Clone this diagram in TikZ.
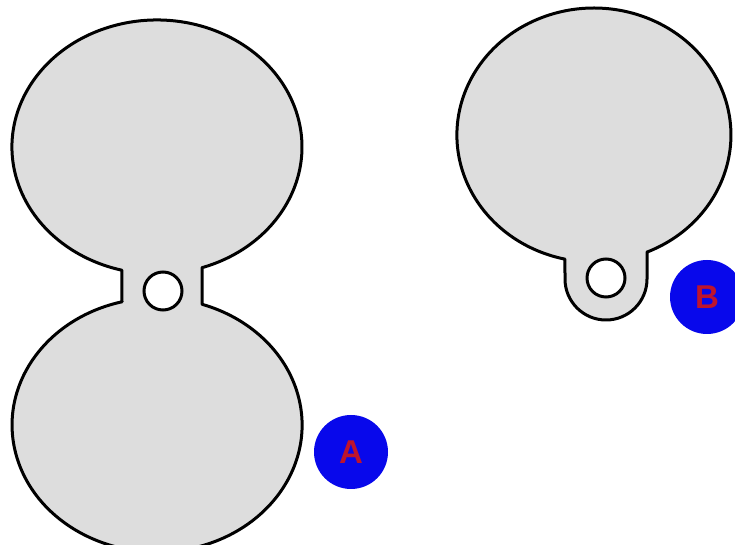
\documentclass[tikz,border=0pt]{standalone}
\usepackage{fontspec}
\setsansfont{Liberation Sans}
\usepackage{xcolor}
\usepackage{tikz}
\usetikzlibrary{positioning}
\definecolor{partgray}{RGB}{221,221,221}
\definecolor{badgeblue}{RGB}{8,8,235}
\definecolor{badgered}{RGB}{190,20,45}

\begin{document}
\begin{tikzpicture}[
  x=1pt, y=1pt,
  part/.style={draw=black, line width=3pt, fill=partgray, line join=round},
  hole/.style={draw=black, line width=3pt, fill=white},
  badge/.style={circle, fill=badgeblue, minimum size=74pt, inner sep=0pt, text=badgered, font=\sffamily\bfseries\fontsize{33}{33}\selectfont}
]
\useasboundingbox (0,0) rectangle (735,545);
% part A: two discs joined by a short neck
\draw[part] (202,277.3) arc[start angle=288.1, end angle=616, x radius=145, y radius=127]
  -- (122,243.2) arc[start angle=104, end angle=431.9, x radius=145, y radius=127] -- cycle;
\draw[hole] (163,254) circle[radius=19];
% part B: one disc with a tab
\draw[part] (647,292.9) arc[start angle=292.8, end angle=617.8, x radius=137, y radius=127]
  -- (565,266) arc[start angle=180, end angle=360, radius=41] -- cycle;
\draw[hole] (606,267) circle[radius=19];
% labels
\node[badge] (badgeA) at (351,93) {A};
\node[badge] (badgeB) at (707,248) {B};
\end{tikzpicture}
\end{document}
